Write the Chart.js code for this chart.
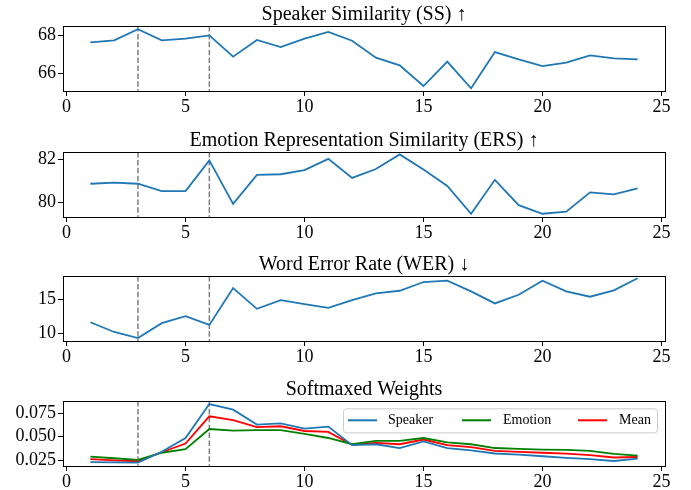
<!DOCTYPE html>
<html>
<head>
<meta charset="utf-8">
<script src="https://cdn.jsdelivr.net/npm/chart.js@4"></script>
<style>
  html, body { margin:0; padding:0; background:#fff; width:691px; height:490px; overflow:hidden; }
  canvas { position:absolute; left:0; }
</style>
</head>
<body>
<canvas id="c1" width="691" height="116" style="top:0px;width:691px;height:116px"></canvas>
<canvas id="c2" width="691" height="116" style="top:125.7px;width:691px;height:116px"></canvas>
<canvas id="c3" width="691" height="116" style="top:250px;width:691px;height:116px"></canvas>
<canvas id="c4" width="691" height="116" style="top:374.7px;width:691px;height:116px"></canvas>
<script>
// ---------------- data ----------------
const layers = [1,2,3,4,5,6,7,8,9,10,11,12,13,14,15,16,17,18,19,20,21,22,23,24];
const ssValues = [67.62,67.72,68.30,67.72,67.81,67.98,66.87,67.74,67.37,67.81,68.16,67.70,66.82,66.42,65.34,66.61,65.22,67.11,66.73,66.38,66.56,66.94,66.78,66.73];
const ersValues = [80.87,80.92,80.87,80.53,80.53,81.95,79.94,81.28,81.31,81.50,82.02,81.14,81.55,82.23,81.53,80.77,79.48,81.05,79.88,79.48,79.58,80.47,80.38,80.66];
const werValues = [11.63,10.19,9.30,11.49,12.52,11.24,16.68,13.61,14.90,14.30,13.76,14.90,15.89,16.28,17.57,17.77,16.19,14.41,15.69,17.77,16.19,15.40,16.34,18.12];
const speakerWeights = [0.0230,0.0228,0.0225,0.0340,0.0486,0.0845,0.0785,0.0628,0.0640,0.0585,0.0606,0.0410,0.0420,0.0380,0.0450,0.0380,0.0355,0.0322,0.0310,0.0293,0.0275,0.0262,0.0243,0.0268];
const emotionWeights = [0.0290,0.0272,0.0254,0.0330,0.0367,0.0581,0.0564,0.0570,0.0570,0.0530,0.0486,0.0420,0.0455,0.0455,0.0486,0.0440,0.0420,0.0380,0.0370,0.0364,0.0360,0.0350,0.0318,0.0300];
const meanWeights = [0.0262,0.0250,0.0240,0.0335,0.0427,0.0715,0.0676,0.0600,0.0610,0.0560,0.0550,0.0415,0.0435,0.0420,0.0470,0.0410,0.0390,0.0350,0.0340,0.0330,0.0320,0.0305,0.0280,0.0285];
const markerLayers = [3, 6];
const xTicks = [0,5,10,15,20,25];
const ssTicks = [66,68];
const ersTicks = [80,82];
const werTicks = [10,15];
const weightTicks = [0.025,0.050,0.075];
const titles = ['Speaker Similarity (SS) \u2191','Emotion Representation Similarity (ERS) \u2191','Word Error Rate (WER) \u2193','Softmaxed Weights'];
const legendLabels = ['Speaker','Emotion','Mean'];

// ---------------- styling ----------------
const SERIF = "'Liberation Serif', 'Times New Roman', serif";
const BLUE = '#1f77b4', GREEN = '#008000', RED = '#ff0000';

function pts(vals){ return layers.map((x,i)=>({x:x, y:vals[i]})); }

const framePlugin = {
  id:'frame',
  beforeDatasetsDraw(chart){
    const {ctx, chartArea:a, scales} = chart;
    ctx.save();
    ctx.strokeStyle = '#7f7f7f';
    ctx.lineWidth = 1.5;
    ctx.setLineDash([5.5,2.4]);
    markerLayers.forEach(v=>{
      const px = scales.x.getPixelForValue(v);
      ctx.beginPath(); ctx.moveTo(px, a.top); ctx.lineTo(px, a.bottom); ctx.stroke();
    });
    ctx.restore();
  },
  afterDatasetsDraw(chart){
    const {ctx, chartArea:a} = chart;
    ctx.save();
    ctx.strokeStyle = '#000'; ctx.lineWidth = 1;
    ctx.strokeRect(Math.round(a.left)+0.5, Math.round(a.top)+0.5, Math.round(a.right-a.left), Math.round(a.bottom-a.top));
    // panel title centred over the plot area
    ctx.fillStyle = '#000';
    ctx.font = '20px ' + SERIF;
    ctx.textAlign = 'center';
    ctx.textBaseline = 'alphabetic';
    ctx.fillText(chart.options.plugins.panelTitle.text, (a.left + a.right)/2, a.top - 6);
    ctx.restore();
    const opts = chart.options.plugins.innerLegend;
    if (opts && opts.show) {
      const l = a.right - 8 - 314, t = a.top + 7.3, w = 314, h = 24;
      ctx.save();
      ctx.fillStyle = 'rgba(255,255,255,0.8)';
      ctx.strokeStyle = '#cccccc'; ctx.lineWidth = 1;
      ctx.beginPath();
      if (ctx.roundRect) ctx.roundRect(l+0.5, t+0.5, w, h, 3); else ctx.rect(l+0.5,t+0.5,w,h);
      ctx.fill(); ctx.stroke();
      const sampleX = [5, 119, 235], textX = [45, 160, 276];
      ctx.font = '14px ' + SERIF;
      ctx.textBaseline = 'middle';
      chart.data.datasets.forEach((ds,i)=>{
        const cy = t + h/2;
        ctx.strokeStyle = ds.borderColor; ctx.lineWidth = 2;
        ctx.beginPath(); ctx.moveTo(l+sampleX[i], cy); ctx.lineTo(l+sampleX[i]+29, cy); ctx.stroke();
        ctx.fillStyle = '#000';
        ctx.fillText(ds.label, l+textX[i], cy+0.5);
      });
      ctx.restore();
    }
  }
};

function makePanel(id, title, datasets, yMin, yMax, yTicks, fmt, legend){
  const tickFont = {family:SERIF, size:18};
  new Chart(document.getElementById(id), {
    type:'line',
    data:{ datasets },
    options:{
      responsive:false, animation:false, devicePixelRatio:1,
      layout:{ padding:{left:0, right:26, top:26, bottom:0} },
      elements:{ point:{radius:0}, line:{tension:0, borderWidth:1.8} },
      plugins:{
        legend:{display:false}, tooltip:{enabled:false}, title:{display:false},
        panelTitle:{text:title},
        innerLegend:{show:legend}
      },
      scales:{
        x:{
          type:'linear', min:-0.15, max:25.15,
          afterBuildTicks:s=>{ s.ticks = xTicks.map(v=>({value:v})); },
          afterFit:s=>{ s.height = 25; },
          grid:{display:true, drawOnChartArea:false, drawTicks:true, tickLength:5, color:'#000', lineWidth:1},
          border:{display:false},
          ticks:{color:'#000', font:tickFont, padding:0, maxRotation:0, autoSkip:false, callback:v=>String(v)}
        },
        y:{
          type:'linear', min:yMin, max:yMax,
          afterBuildTicks:s=>{ s.ticks = yTicks.map(v=>({value:v})); },
          afterFit:s=>{ s.width = 63; },
          grid:{display:true, drawOnChartArea:false, drawTicks:true, tickLength:5, color:'#000', lineWidth:1},
          border:{display:false},
          ticks:{color:'#000', font:tickFont, padding:2, autoSkip:false, callback:fmt}
        }
      }
    },
    plugins:[framePlugin]
  });
}

const intFmt = v => String(v);
makePanel('c1', titles[0], [{label:'SS', data:pts(ssValues), borderColor:BLUE, fill:false}], 65.08, 68.47, ssTicks, intFmt, false);
makePanel('c2', titles[1], [{label:'ERS', data:pts(ersValues), borderColor:BLUE, fill:false}], 79.33, 82.34, ersTicks, intFmt, false);
makePanel('c3', titles[2], [{label:'WER', data:pts(werValues), borderColor:BLUE, fill:false}], 8.86, 18.46, werTicks, intFmt, false);
makePanel('c4', titles[3], [
  {label:legendLabels[0], data:pts(speakerWeights), borderColor:BLUE, fill:false},
  {label:legendLabels[1], data:pts(emotionWeights), borderColor:GREEN, fill:false},
  {label:legendLabels[2], data:pts(meanWeights), borderColor:RED, fill:false}
], 0.0190, 0.0877, weightTicks, v=>v.toFixed(3), true);
</script>
</body>
</html>
